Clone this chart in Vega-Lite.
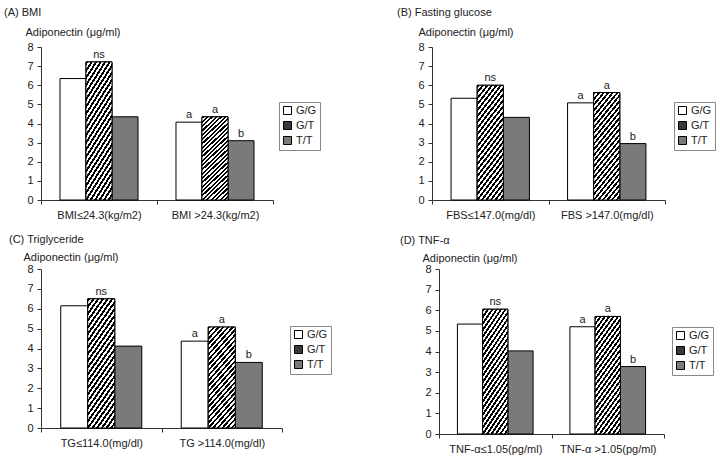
{
"$schema": "https://vega.github.io/schema/vega-lite/v6.json",
"autosize": {"type": "pad"},
"padding": {"left": 4, "top": 7, "right": 4, "bottom": 4},
"datasets": {"d": [
{"panel":"A","group":"BMI≤24.3(kg/m2)","genotype":"G/G","value":6.35,"sig":""},
{"panel":"A","group":"BMI≤24.3(kg/m2)","genotype":"G/T","value":7.22,"sig":"ns"},
{"panel":"A","group":"BMI≤24.3(kg/m2)","genotype":"T/T","value":4.35,"sig":""},
{"panel":"A","group":"BMI >24.3(kg/m2)","genotype":"G/G","value":4.07,"sig":"a"},
{"panel":"A","group":"BMI >24.3(kg/m2)","genotype":"G/T","value":4.35,"sig":"a"},
{"panel":"A","group":"BMI >24.3(kg/m2)","genotype":"T/T","value":3.1,"sig":"b"},
{"panel":"B","group":"FBS≤147.0(mg/dl)","genotype":"G/G","value":5.32,"sig":""},
{"panel":"B","group":"FBS≤147.0(mg/dl)","genotype":"G/T","value":6.0,"sig":"ns"},
{"panel":"B","group":"FBS≤147.0(mg/dl)","genotype":"T/T","value":4.32,"sig":""},
{"panel":"B","group":"FBS >147.0(mg/dl)","genotype":"G/G","value":5.08,"sig":"a"},
{"panel":"B","group":"FBS >147.0(mg/dl)","genotype":"G/T","value":5.62,"sig":"a"},
{"panel":"B","group":"FBS >147.0(mg/dl)","genotype":"T/T","value":2.95,"sig":"b"},
{"panel":"C","group":"TG≤114.0(mg/dl)","genotype":"G/G","value":6.15,"sig":""},
{"panel":"C","group":"TG≤114.0(mg/dl)","genotype":"G/T","value":6.5,"sig":"ns"},
{"panel":"C","group":"TG≤114.0(mg/dl)","genotype":"T/T","value":4.12,"sig":""},
{"panel":"C","group":"TG >114.0(mg/dl)","genotype":"G/G","value":4.37,"sig":"a"},
{"panel":"C","group":"TG >114.0(mg/dl)","genotype":"G/T","value":5.08,"sig":"a"},
{"panel":"C","group":"TG >114.0(mg/dl)","genotype":"T/T","value":3.3,"sig":"b"},
{"panel":"D","group":"TNF-α≤1.05(pg/ml)","genotype":"G/G","value":5.33,"sig":""},
{"panel":"D","group":"TNF-α≤1.05(pg/ml)","genotype":"G/T","value":6.05,"sig":"ns"},
{"panel":"D","group":"TNF-α≤1.05(pg/ml)","genotype":"T/T","value":4.03,"sig":""},
{"panel":"D","group":"TNF-α >1.05(pg/ml)","genotype":"G/G","value":5.2,"sig":"a"},
{"panel":"D","group":"TNF-α >1.05(pg/ml)","genotype":"G/T","value":5.7,"sig":"a"},
{"panel":"D","group":"TNF-α >1.05(pg/ml)","genotype":"T/T","value":3.27,"sig":"b"}
]},
"config": {
  "font": "Liberation Sans",
  "view": {"stroke": null},
  "axis": {"labelFontSize": 11, "titleFontSize": 11, "titleFontWeight": "normal", "labelColor": "#222", "titleColor": "#222", "domainColor": "#333", "tickColor": "#333", "tickSize": 4, "grid": false, "labelFont": "Liberation Sans", "titleFont": "Liberation Sans"},
  "axisX": {"labelAngle": 0, "labelPadding": 5, "tickBand": "extent"},
  "axisY": {"labelPadding": 4},
  "title": {"fontSize": 11, "fontWeight": "normal", "color": "#222", "anchor": "start", "frame": "group", "font": "Liberation Sans"},
  "legend": {"orient": "none", "symbolType": "square", "symbolSize": 64, "symbolStrokeColor": "#000", "symbolStrokeWidth": 1, "labelFontSize": 11, "labelColor": "#222", "strokeColor": "#888", "fillColor": "#fff", "padding": 3, "rowPadding": 2, "labelOffset": 3, "labelFont": "Liberation Sans"},
  "text": {"font": "Liberation Sans", "fontSize": 11, "color": "#222"},
  "range": {"category": ["#ffffff", "#3a3a3a", "#7a7a7a"]},
  "bar": {"fill": {"gradient": "linear", "x1": 0, "y1": 0, "x2": 0.358, "y2": 1.193, "stops": [
{"offset":0,"color":"#000"},{"offset":0.02,"color":"#000"},{"offset":0.02,"color":"#fff"},{"offset":0.04,"color":"#fff"},
{"offset":0.04,"color":"#000"},{"offset":0.06,"color":"#000"},{"offset":0.06,"color":"#fff"},{"offset":0.08,"color":"#fff"},
{"offset":0.08,"color":"#000"},{"offset":0.1,"color":"#000"},{"offset":0.1,"color":"#fff"},{"offset":0.12,"color":"#fff"},
{"offset":0.12,"color":"#000"},{"offset":0.14,"color":"#000"},{"offset":0.14,"color":"#fff"},{"offset":0.16,"color":"#fff"},
{"offset":0.16,"color":"#000"},{"offset":0.18,"color":"#000"},{"offset":0.18,"color":"#fff"},{"offset":0.2,"color":"#fff"},
{"offset":0.2,"color":"#000"},{"offset":0.22,"color":"#000"},{"offset":0.22,"color":"#fff"},{"offset":0.24,"color":"#fff"},
{"offset":0.24,"color":"#000"},{"offset":0.26,"color":"#000"},{"offset":0.26,"color":"#fff"},{"offset":0.28,"color":"#fff"},
{"offset":0.28,"color":"#000"},{"offset":0.3,"color":"#000"},{"offset":0.3,"color":"#fff"},{"offset":0.32,"color":"#fff"},
{"offset":0.32,"color":"#000"},{"offset":0.34,"color":"#000"},{"offset":0.34,"color":"#fff"},{"offset":0.36,"color":"#fff"},
{"offset":0.36,"color":"#000"},{"offset":0.38,"color":"#000"},{"offset":0.38,"color":"#fff"},{"offset":0.4,"color":"#fff"},
{"offset":0.4,"color":"#000"},{"offset":0.42,"color":"#000"},{"offset":0.42,"color":"#fff"},{"offset":0.44,"color":"#fff"},
{"offset":0.44,"color":"#000"},{"offset":0.46,"color":"#000"},{"offset":0.46,"color":"#fff"},{"offset":0.48,"color":"#fff"},
{"offset":0.48,"color":"#000"},{"offset":0.5,"color":"#000"},{"offset":0.5,"color":"#fff"},{"offset":0.52,"color":"#fff"},
{"offset":0.52,"color":"#000"},{"offset":0.54,"color":"#000"},{"offset":0.54,"color":"#fff"},{"offset":0.56,"color":"#fff"},
{"offset":0.56,"color":"#000"},{"offset":0.58,"color":"#000"},{"offset":0.58,"color":"#fff"},{"offset":0.6,"color":"#fff"},
{"offset":0.6,"color":"#000"},{"offset":0.62,"color":"#000"},{"offset":0.62,"color":"#fff"},{"offset":0.64,"color":"#fff"},
{"offset":0.64,"color":"#000"},{"offset":0.66,"color":"#000"},{"offset":0.66,"color":"#fff"},{"offset":0.68,"color":"#fff"},
{"offset":0.68,"color":"#000"},{"offset":0.7,"color":"#000"},{"offset":0.7,"color":"#fff"},{"offset":0.72,"color":"#fff"},
{"offset":0.72,"color":"#000"},{"offset":0.74,"color":"#000"},{"offset":0.74,"color":"#fff"},{"offset":0.76,"color":"#fff"},
{"offset":0.76,"color":"#000"},{"offset":0.78,"color":"#000"},{"offset":0.78,"color":"#fff"},{"offset":0.8,"color":"#fff"},
{"offset":0.8,"color":"#000"},{"offset":0.82,"color":"#000"},{"offset":0.82,"color":"#fff"},{"offset":0.84,"color":"#fff"},
{"offset":0.84,"color":"#000"},{"offset":0.86,"color":"#000"},{"offset":0.86,"color":"#fff"},{"offset":0.88,"color":"#fff"},
{"offset":0.88,"color":"#000"},{"offset":0.9,"color":"#000"},{"offset":0.9,"color":"#fff"},{"offset":0.92,"color":"#fff"},
{"offset":0.92,"color":"#000"},{"offset":0.94,"color":"#000"},{"offset":0.94,"color":"#fff"},{"offset":0.96,"color":"#fff"},
{"offset":0.96,"color":"#000"},{"offset":0.98,"color":"#000"},{"offset":0.98,"color":"#fff"},{"offset":1,"color":"#fff"}
  ]}}
},
"resolve": {"scale": {"x": "independent", "y": "independent", "xOffset": "independent"}, "legend": {"fill": "independent"}},
"spacing": 14,
"align": "none",
"vconcat": [
{"hconcat": [
 {"width": 232, "height": 153,
  "title": {"text": "(A) BMI", "dx": -37, "offset": 8},
  "data": {"name": "d"},
  "transform": [{"filter": "datum.panel == 'A'"}],
  "encoding": {
   "x": {"field": "group", "type": "nominal", "sort": null, "scale": {"paddingInner": 0, "paddingOuter": 0}, "axis": {"title": null}},
   "xOffset": {"field": "genotype", "type": "nominal", "scale": {"paddingInner": 0, "paddingOuter": 0.73}},
   "y": {"field": "value", "type": "quantitative", "scale": {"domain": [0, 8]}, "axis": {"values": [0,1,2,3,4,5,6,7,8], "title": "Adiponectin (μg/ml)", "titleAngle": 0, "titleX": -16, "titleY": -15, "titleAlign": "left", "titleBaseline": "middle"}}
  },
  "layer": [
   {"mark": {"type": "bar", "stroke": "#000", "strokeWidth": 1},
    "encoding": {"fill": {"field": "genotype", "type": "nominal", "legend": {"title": null, "legendX": 238, "legendY": 55}}}},
   {"transform": [{"filter": "datum.genotype == 'G/T'"}], "mark": {"type": "bar", "stroke": "#000", "strokeWidth": 1}},
   {"mark": {"type": "text", "baseline": "bottom", "dy": -2, "fill": "#222"}, "encoding": {"text": {"field": "sig"}}}
  ]
 },
 {"width": 233, "height": 153,
  "title": {"text": "(B) Fasting glucose", "dx": -35, "offset": 8},
  "data": {"name": "d"},
  "transform": [{"filter": "datum.panel == 'B'"}],
  "encoding": {
   "x": {"field": "group", "type": "nominal", "sort": null, "scale": {"paddingInner": 0, "paddingOuter": 0}, "axis": {"title": null}},
   "xOffset": {"field": "genotype", "type": "nominal", "scale": {"paddingInner": 0, "paddingOuter": 0.73}},
   "y": {"field": "value", "type": "quantitative", "scale": {"domain": [0, 8]}, "axis": {"values": [0,1,2,3,4,5,6,7,8], "title": "Adiponectin (μg/ml)", "titleAngle": 0, "titleX": -14, "titleY": -15, "titleAlign": "left", "titleBaseline": "middle"}}
  },
  "layer": [
   {"mark": {"type": "bar", "stroke": "#000", "strokeWidth": 1},
    "encoding": {"fill": {"field": "genotype", "type": "nominal", "legend": {"title": null, "legendX": 242, "legendY": 55}}}},
   {"transform": [{"filter": "datum.genotype == 'G/T'"}], "mark": {"type": "bar", "stroke": "#000", "strokeWidth": 1}},
   {"mark": {"type": "text", "baseline": "bottom", "dy": -2, "fill": "#222"}, "encoding": {"text": {"field": "sig"}}}
  ]
 }
 ], "spacing": 76,
 "resolve": {"scale": {"x": "independent", "y": "independent", "xOffset": "independent"}, "legend": {"fill": "independent"}}},
{"hconcat": [
 {"width": 241, "height": 159,
  "title": {"text": "(C) Triglyceride", "dx": -32, "offset": 6},
  "data": {"name": "d"},
  "transform": [{"filter": "datum.panel == 'C'"}],
  "encoding": {
   "x": {"field": "group", "type": "nominal", "sort": null, "scale": {"paddingInner": 0, "paddingOuter": 0}, "axis": {"title": null}},
   "xOffset": {"field": "genotype", "type": "nominal", "scale": {"paddingInner": 0, "paddingOuter": 0.73}},
   "y": {"field": "value", "type": "quantitative", "scale": {"domain": [0, 8]}, "axis": {"values": [0,1,2,3,4,5,6,7,8], "title": "Adiponectin (μg/ml)", "titleAngle": 0, "titleX": -18, "titleY": -12, "titleAlign": "left", "titleBaseline": "middle"}}
  },
  "layer": [
   {"mark": {"type": "bar", "stroke": "#000", "strokeWidth": 1},
    "encoding": {"fill": {"field": "genotype", "type": "nominal", "legend": {"title": null, "legendX": 249, "legendY": 57}}}},
   {"transform": [{"filter": "datum.genotype == 'G/T'"}], "mark": {"type": "bar", "stroke": "#000", "strokeWidth": 1}},
   {"mark": {"type": "text", "baseline": "bottom", "dy": -2, "fill": "#222"}, "encoding": {"text": {"field": "sig"}}}
  ]
 },
 {"width": 225, "height": 165,
  "title": {"text": "(D) TNF-α", "dx": -39, "offset": 6},
  "data": {"name": "d"},
  "transform": [{"filter": "datum.panel == 'D'"}],
  "encoding": {
   "x": {"field": "group", "type": "nominal", "sort": null, "scale": {"paddingInner": 0, "paddingOuter": 0}, "axis": {"title": null}},
   "xOffset": {"field": "genotype", "type": "nominal", "scale": {"paddingInner": 0, "paddingOuter": 0.73}},
   "y": {"field": "value", "type": "quantitative", "scale": {"domain": [0, 8]}, "axis": {"values": [0,1,2,3,4,5,6,7,8], "title": "Adiponectin (μg/ml)", "titleAngle": 0, "titleX": -17, "titleY": -11, "titleAlign": "left", "titleBaseline": "middle"}}
  },
  "layer": [
   {"mark": {"type": "bar", "stroke": "#000", "strokeWidth": 1},
    "encoding": {"fill": {"field": "genotype", "type": "nominal", "legend": {"title": null, "legendX": 233, "legendY": 58}}}},
   {"transform": [{"filter": "datum.genotype == 'G/T'"}], "mark": {"type": "bar", "stroke": "#000", "strokeWidth": 1}},
   {"mark": {"type": "text", "baseline": "bottom", "dy": -2, "fill": "#222"}, "encoding": {"text": {"field": "sig"}}}
  ]
 }
 ], "spacing": 68,
 "resolve": {"scale": {"x": "independent", "y": "independent", "xOffset": "independent"}, "legend": {"fill": "independent"}}}
]
}
